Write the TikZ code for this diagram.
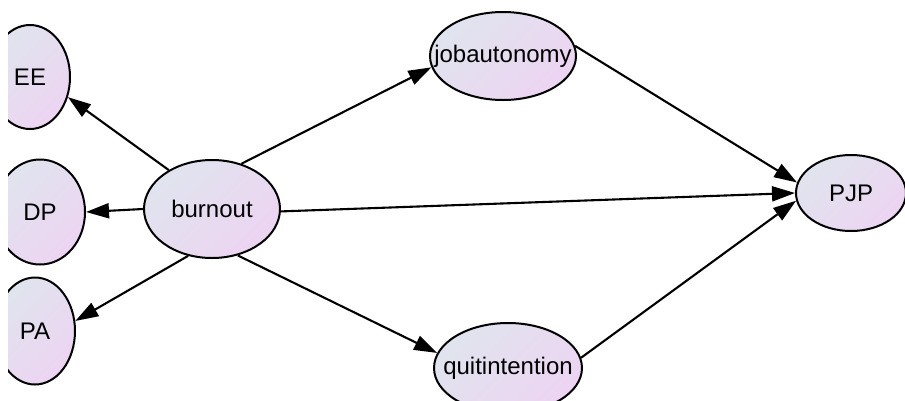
\documentclass[tikz,border=0pt]{standalone}
\usepackage{fontspec}
\setmainfont{Liberation Sans}
\usetikzlibrary{arrows.meta,shapes.geometric}
\definecolor{shadetop}{RGB}{224,228,238}
\definecolor{shadebot}{RGB}{237,212,242}
\begin{document}
\begin{tikzpicture}[x=1pt,y=-1pt,line width=2.1pt,
	            var/.style={ellipse,draw,line width=2pt,inner xsep=-20pt,inner ysep=0pt,
	              top color=shadetop,bottom color=shadebot,shading angle=45,
	              font=\fontsize{24}{28}\selectfont},
	            >={Triangle[length=23pt,width=15pt]}]
	            \useasboundingbox (0,0) rectangle (905,400);
	            \clip (8,0) rectangle (905,400);
	            \node[var,minimum width=80,minimum height=104] (EE) at (30,77) {EE};
	            \node[var,minimum width=90,minimum height=105] (DP) at (40,212) {DP};
	            \node[var,minimum width=80,minimum height=107] (PA) at (35,331) {PA};
	            \node[var,minimum width=136,minimum height=98] (burnout) at (212,209) {burnout};
	            \node[var,minimum width=146,minimum height=88] (jobautonomy) at (503,56) {jobautonomy};
	            \node[var,minimum width=148,minimum height=90] (quitintention) at (508,368) {quitintention};
	            \node[var,minimum width=110,minimum height=76] (PJP) at (851,193) {PJP};
	            \draw[->] (burnout.138) -- (EE.-28);
	            \draw[->] (burnout.180) -- (DP.0);
	            \draw[->] (burnout.243) -- (PA.14);
	            \draw[->] (burnout.57) -- (jobautonomy.189);
	            \draw[->] (burnout.358) -- (PJP.180);
	            \draw[->] (burnout.299) -- (quitintention.168);
	            \draw[->] (jobautonomy.8) -- (PJP.169);
	            \draw[->] (quitintention.8) -- (PJP.188);
            \end{tikzpicture}
\end{document}
